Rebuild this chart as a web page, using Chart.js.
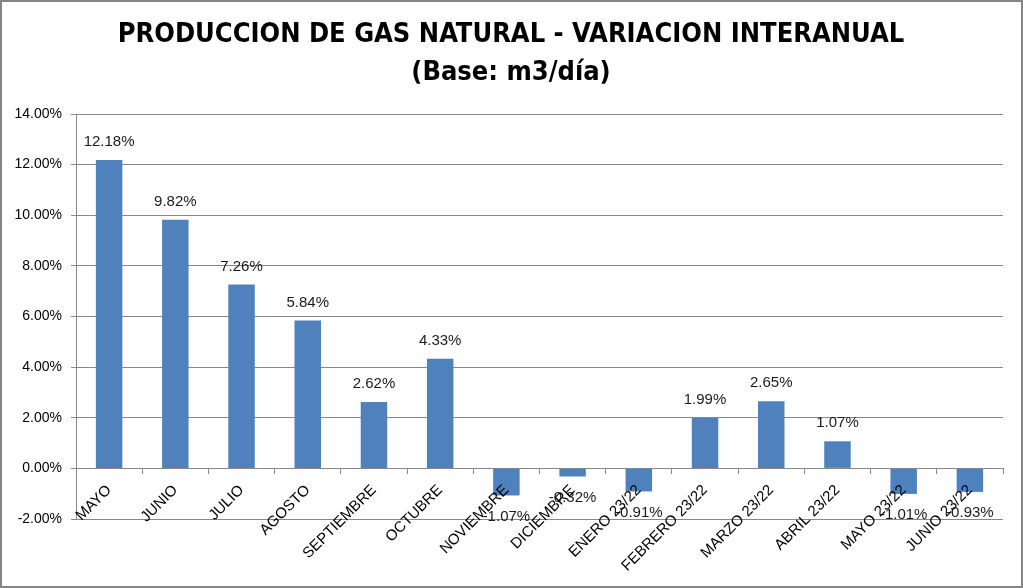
<!DOCTYPE html>
<html>
<head>
<meta charset="utf-8">
<title>Produccion de gas natural - variacion interanual</title>
<script src="https://cdn.jsdelivr.net/npm/chart.js@4.4.0/dist/chart.umd.min.js"></script>
<style>
  html, body { margin: 0; padding: 0; background: #fff; }
  #wrap { width: 1023px; height: 588px; position: relative; }
</style>
</head>
<body>
<div id="wrap"><canvas id="gasChart"></canvas></div>
<script>
// datos
const months = ['MAYO', 'JUNIO', 'JULIO', 'AGOSTO', 'SEPTIEMBRE', 'OCTUBRE', 'NOVIEMBRE',
  'DICIEMBRE', 'ENERO 23/22', 'FEBRERO 23/22', 'MARZO 23/22', 'ABRIL 23/22', 'MAYO 23/22', 'JUNIO 23/22'];
const variation = [12.18, 9.82, 7.26, 5.84, 2.62, 4.33, -1.07, -0.32, -0.91, 1.99, 2.65, 1.07, -1.01, -0.93];
const yMin = -2;
const yMax = 14;
const yStep = 2;
const titleLines = ['PRODUCCION DE GAS NATURAL - VARIACION INTERANUAL', '(Base: m3/día)'];

const labelFont = '"Liberation Sans", Arial, sans-serif';
const titleFont = '"DejaVu Sans Condensed", "Liberation Sans", sans-serif';

// titulo y marco
const titleAndFrame = {
  id: 'titleAndFrame',
  afterDraw(chart) {
    const ctx = chart.ctx;
    ctx.save();
    ctx.fillStyle = '#000';
    ctx.textAlign = 'center';
    ctx.textBaseline = 'middle';
    ctx.font = 'bold 27px ' + titleFont;
    ctx.fillText(titleLines[0], 511, 35);
    ctx.fillText(titleLines[1], 511, 73);
    ctx.strokeStyle = '#868686';
    ctx.lineWidth = 2;
    ctx.strokeRect(1, 1, chart.width - 2, chart.height - 2);
    ctx.restore();
  }
};

// etiquetas de valor sobre/bajo cada barra
const barValueLabels = {
  id: 'barValueLabels',
  afterDatasetsDraw(chart) {
    const ctx = chart.ctx;
    const meta = chart.getDatasetMeta(0);
    ctx.save();
    ctx.font = '15px ' + labelFont;
    ctx.fillStyle = '#1a1a1a';
    ctx.textAlign = 'center';
    ctx.textBaseline = 'middle';
    meta.data.forEach((bar, i) => {
      const v = variation[i];
      const y = v >= 0 ? bar.y - 18 : bar.y + 21;
      ctx.fillText(v.toFixed(2) + '%', bar.x, y);
    });
    ctx.restore();
  }
};

new Chart(document.getElementById('gasChart'), {
  type: 'bar',
  data: {
    labels: months,
    datasets: [{
      data: variation,
      backgroundColor: '#4F81BD',
      borderWidth: 0,
      categoryPercentage: 1,
      barPercentage: 0.4
    }]
  },
  options: {
    responsive: true,
    maintainAspectRatio: false,
    animation: false,
    layout: { padding: { top: 114, right: 20, bottom: 69, left: 0 } },
    plugins: {
      legend: { display: false },
      title: { display: false },
      tooltip: { enabled: false }
    },
    scales: {
      x: {
        type: 'category',
        position: { y: 0 },
        offset: true,
        grid: { display: true, drawOnChartArea: false, drawTicks: true, tickLength: 5, color: '#888', offset: true },
        border: { display: true, color: '#888' },
        ticks: {
          minRotation: 45, maxRotation: 45, autoSkip: false,
          color: '#000', padding: 8, z: 1,
          font: { family: labelFont, size: 15 }
        }
      },
      y: {
        min: yMin,
        max: yMax,
        afterFit(scale) { scale.width = 76; },
        grid: { color: '#888', tickLength: 5 },
        border: { display: true, color: '#888' },
        ticks: {
          stepSize: yStep,
          color: '#000',
          padding: 9,
          font: { family: labelFont, size: 14 },
          callback: (v) => v.toFixed(2) + '%'
        }
      }
    }
  },
  plugins: [barValueLabels, titleAndFrame]
});
</script>
</body>
</html>
